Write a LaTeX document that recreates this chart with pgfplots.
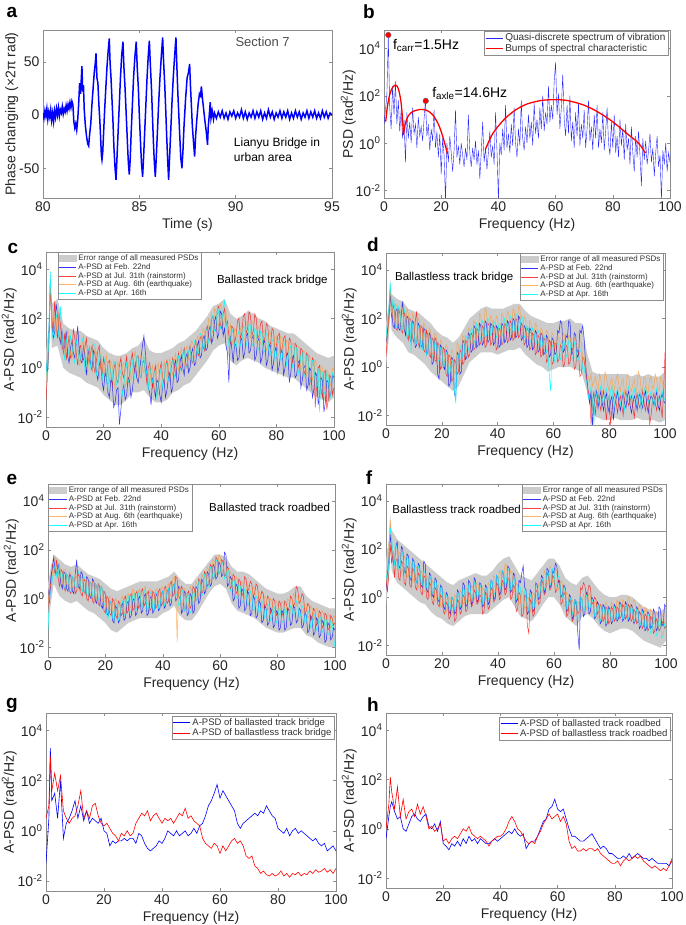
\documentclass[border=0pt]{standalone}
\usepackage{fontspec}
\setmainfont{Liberation Sans}
\usepackage{pgfplots}
\usepackage{pgfplotstable}
\pgfplotsset{compat=1.18}
\usepgfplotslibrary{fillbetween}

\definecolor{mblue}{rgb}{0,0,1}
\definecolor{mred}{rgb}{1,0,0}
\definecolor{morange}{rgb}{1,0.6,0.2}
\definecolor{mcyan}{rgb}{0,1,1}
\definecolor{bandgray}{gray}{0.8}
\definecolor{axgray}{gray}{0.55}

% all PSD values are stored as log10 of the value
\pgfplotstableread{
x b r o c
0 0.2 -1.3 -0.5 0.3
0.5 -0.3 -0.2 0.4 -0.6
1 1.3 0.8 1.0 1.6
1.5 3.5 3.3 3.6 3.9
2 1.9 2.1 1.6 1.7
2.5 1.2 1.4 2.3 1.1
3 1.4 2.7 1.9 1.3
3.5 2.6 1.7 1.3 2.2
4 2.2 1.2 2.4 1.9
4.5 1.3 2.2 1.6 1.2
5 1.0 1.8 1.2 2.5
5.5 1.6 0.9 0.8 1.4
6 0.6 0.7 1.4 0.8
6.5 0.9 1.4 0.5 0.3
7 1.5 0.3 0.6 1.2
7.5 0.5 0.8 1.6 0.9
8 0.2 1.3 1.1 0.5
8.5 0.8 0.4 0.6 1.3
9 1.1 0.5 0.3 1.0
9.5 0.6 1.6 0.9 0.4
10 0.4 1.2 1.0 0.2
10.5 1.0 0.6 1.4 1.1
11 1.7 0.1 0.7 0.9
11.5 0.8 0.8 0.1 0.2
12 0.3 0.9 0.2 0.4
12.5 0.2 0.4 0.9 1.2
13 0.9 0.3 1.3 1.0
13.5 0.5 0.8 0.6 -0.1
14 -0.3 1.2 0.4 0.1
14.5 0.4 0.5 -0.3 0.8
15 0.8 0.2 0.9 0.7
15.5 0.1 0.6 0.5 0.0
16 -0.1 0.9 -0.2 0.3
16.5 0.7 0.1 0.4 1.0
17 0.6 -0.2 0.8 0.9
17.5 -0.2 0.3 0.6 -0.3
18 -0.5 0.7 0.2 -0.1
18.5 0.1 0.9 -0.4 0.6
19 0.4 0.0 0.6 0.5
19.5 -0.6 -0.3 0.2 -0.5
20 -0.9 0.4 -0.3 0.1
20.5 -0.2 0.1 0.0 0.4
21 -0.4 -0.5 0.5 -0.4
21.5 -1.0 0.2 -0.1 -0.9
22 -1.2 0.3 -0.6 0.2
22.5 -0.5 -0.2 0.3 -0.2
23 -0.6 -0.7 0.1 -0.5
23.5 -1.6 -0.1 -0.4 0.3
24 -1.4 0.2 -0.9 0.1
24.5 -0.9 -0.5 -0.2 -0.7
25 -0.8 -0.6 0.3 -0.6
25.5 -2.3 0.1 -0.3 0.0
26 -1.7 0.4 -0.5 -0.2
26.5 -1.0 -0.2 0.1 -1.1
27 -0.7 -0.4 0.2 -0.8
27.5 -1.3 0.0 -0.8 -0.1
28 -1.1 0.5 -0.6 0.2
28.5 -0.4 -0.6 0.0 -0.6
29 -0.5 -0.3 0.3 -0.4
29.5 -1.2 0.3 -0.5 0.1
30 -0.9 0.6 -0.2 0.3
30.5 -0.3 0.0 0.4 -0.5
31 0.2 -0.2 0.7 -0.2
31.5 -0.4 0.4 0.0 0.5
32 -0.6 0.5 -0.4 0.4
32.5 -0.1 -0.3 0.3 -0.4
33 0.4 -0.4 0.5 -0.3
33.5 0.9 0.2 -0.1 0.2
34 1.3 0.3 -0.2 0.5
34.5 0.6 -0.1 0.5 -0.3
35 -0.3 -0.6 0.4 -0.1
35.5 -0.8 0.0 -0.2 -0.9
36 -1.0 0.2 -0.7 0.1
36.5 -1.5 -0.3 -0.1 -0.3
37 -0.4 -0.8 0.1 -0.6
37.5 -0.8 -0.2 -1.0 -0.2
38 -1.2 0.1 -0.5 -0.1
38.5 -0.5 -1.1 0.0 -1.3
39 -0.6 -0.7 0.2 -0.7
39.5 -1.1 -0.1 -0.6 -0.3
40 -1.4 0.2 -0.9 0.0
40.5 -0.7 -0.4 -0.3 -0.8
41 -0.5 -0.6 0.3 -0.5
41.5 -1.2 0.1 -0.2 0.1
42 -0.9 0.3 -0.4 0.2
42.5 -0.4 -0.2 0.1 -0.5
43 -0.2 -0.5 0.4 -0.4
43.5 -1.0 0.0 -0.1 0.2
44 -0.8 0.4 -0.3 0.3
44.5 0.1 0.1 0.3 -0.4
45 0.3 -0.3 0.6 -0.2
45.5 -0.6 0.2 0.0 0.3
46 -0.5 0.6 -0.1 0.5
46.5 0.2 0.1 0.5 -0.1
47 0.5 -0.1 0.8 0.0
47.5 0.0 0.5 0.2 0.6
48 -0.3 0.8 0.1 0.7
48.5 0.4 0.2 0.7 0.0
49 0.6 0.0 0.9 0.1
49.5 -0.2 0.6 0.4 0.7
50 0.0 0.9 0.3 0.8
50.5 0.6 0.3 1.1 0.2
51 0.8 0.2 1.0 0.3
51.5 0.1 0.8 0.4 1.1
52 0.2 1.1 0.5 1.0
52.5 0.9 0.6 1.3 0.5
53 1.1 0.5 1.2 0.6
53.5 0.4 1.2 0.8 1.4
54 0.5 1.3 0.7 1.3
54.5 1.2 0.9 1.6 0.7
55 1.3 0.7 1.5 0.8
55.5 0.7 1.5 1.1 1.6
56 0.8 1.7 1.0 1.5
56.5 1.5 1.2 2.0 1.0
57 1.7 1.1 1.9 1.2
57.5 1.0 2.0 1.5 2.2
58 1.2 2.1 1.4 2.0
58.5 1.9 1.6 2.4 1.5
59 2.1 1.5 2.3 1.6
59.5 1.2 2.4 1.8 2.5
60 1.4 2.5 1.7 2.2
60.5 2.3 1.8 2.6 1.6
61 2.2 1.6 2.4 1.7
61.5 1.3 2.2 1.7 2.4
62 1.6 2.4 2.0 2.7
62.5 0.9 1.7 2.3 1.9
63 0.6 1.9 1.5 1.4
63.5 -0.6 1.3 1.0 0.9
64 1.3 1.0 1.8 1.1
64.5 0.8 1.7 1.2 1.6
65 0.2 1.6 0.9 1.4
65.5 1.0 1.0 1.6 0.9
66 0.9 1.3 1.5 0.8
66.5 0.3 1.9 1.1 1.3
67 0.4 2.0 1.0 1.5
67.5 1.1 1.2 1.6 0.9
68 1.2 1.4 1.7 1.0
68.5 0.4 2.1 1.2 1.7
69 0.6 2.2 1.1 1.6
69.5 1.3 1.4 1.8 0.9
70 1.4 1.6 1.9 1.1
70.5 0.6 2.3 1.3 1.8
71 0.7 2.1 1.2 1.7
71.5 1.2 1.3 1.9 0.9
72 1.3 1.5 1.8 1.0
72.5 0.3 2.2 1.1 1.6
73 0.5 2.0 1.0 1.5
73.5 1.1 1.2 1.7 0.7
74 1.2 1.3 1.6 0.8
74.5 0.2 1.8 1.0 1.5
75 0.4 1.9 0.9 1.4
75.5 1.0 1.0 1.5 0.6
76 1.1 1.2 1.5 0.7
76.5 0.1 1.8 0.7 1.4
77 0.3 1.7 0.8 1.3
77.5 0.9 0.9 1.5 0.5
78 0.9 1.0 1.4 0.6
78.5 -0.1 1.6 0.6 1.1
79 0.2 1.5 0.7 1.2
79.5 0.7 0.7 1.2 0.3
80 0.8 0.9 1.3 0.5
80.5 -0.2 1.3 0.5 1.0
81 0.1 1.4 0.6 1.1
81.5 0.6 0.6 1.3 0.3
82 0.7 0.8 1.2 0.4
82.5 -0.3 1.2 0.4 0.9
83 0.0 1.3 0.5 1.0
83.5 0.5 0.5 1.1 0.1
84 0.6 0.6 1.1 0.3
84.5 -0.6 1.2 0.3 0.8
85 -0.2 1.1 0.4 0.9
85.5 0.4 0.2 1.0 0.0
86 0.5 0.4 1.0 0.2
86.5 -0.4 1.0 0.2 0.9
87 -0.3 0.9 0.3 0.8
87.5 0.2 0.0 0.9 -0.3
88 0.3 0.2 0.8 0.0
88.5 -0.8 0.8 -0.1 0.5
89 -0.5 0.7 0.1 0.6
89.5 0.0 -0.3 0.7 -0.4
90 0.1 -0.1 0.6 -0.2
90.5 -0.9 0.6 -0.3 0.5
91 -0.7 0.5 -0.1 0.4
91.5 0.0 -0.7 0.5 -0.6
92 -0.1 -0.4 0.4 -0.5
92.5 -1.2 0.4 -0.5 0.3
93 -0.9 0.3 -0.3 0.2
93.5 -0.2 -1.6 0.3 -0.9
94 -0.3 -0.6 0.2 -0.7
94.5 -1.5 0.0 -0.6 0.0
95 -1.1 0.1 -0.5 -1.8
95.5 -0.4 -0.9 0.1 -0.1
96 -0.5 -1.2 0.0 -0.2
96.5 -1.8 -0.2 -0.9 -1.1
97 -1.4 -0.1 -0.7 -0.9
97.5 -0.5 -1.7 -0.1 -0.2
98 -0.6 -1.3 -0.2 -0.4
98.5 -1.2 -0.3 -0.8 -1.3
99 -1.0 -0.4 -0.6 -1.0
99.5 -0.3 -1.1 0.0 -0.2
100 -0.4 -0.8 -0.1 -0.3
}\tabc
\pgfplotstableread{
x lo hi
0 -1.2 0.6
1 0.2 1.8
1.5 3.0 4.0
2 0.8 2.6
4 0.9 2.8
6 0.0 1.8
8 -0.2 1.6
10 -0.3 1.5
12 -0.4 1.5
14 -0.6 1.3
16 -0.7 1.2
18 -0.8 1.1
20 -1.1 0.8
22 -1.3 0.6
24 -1.5 0.5
26 -1.5 0.5
28 -1.3 0.6
30 -1.0 0.8
32 -1.0 0.9
34 -0.9 1.2
36 -1.2 0.7
38 -1.4 0.6
40 -1.4 0.6
42 -1.3 0.7
44 -1.0 0.8
46 -0.9 1.0
48 -0.7 1.1
50 -0.6 1.3
52 -0.3 1.5
54 0.0 1.8
56 0.3 2.1
58 0.7 2.5
60 0.9 2.6
62 1.0 2.8
64 0.3 2.2
66 0.1 2.0
68 0.3 2.1
70 0.4 2.3
72 0.3 2.2
74 0.2 2.0
76 0.0 1.9
78 -0.1 1.7
80 -0.2 1.6
82 -0.3 1.5
84 -0.4 1.4
86 -0.4 1.4
88 -0.6 1.2
90 -0.8 1.0
92 -1.0 0.8
94 -1.2 0.6
96 -1.3 0.5
98 -1.4 0.4
100 -1.2 0.5
}\bandc

\pgfplotstableread{
x b r o c
0 1.0 0.4 1.5 1.2
0.5 1.5 1.3 0.9 1.8
1 1.8 2.2 2.0 2.4
1.5 3.0 3.2 3.1 3.5
2 2.5 2.0 2.8 2.2
2.5 1.7 2.6 2.0 2.8
3 1.6 2.3 1.9 2.6
3.5 2.3 1.6 2.6 1.6
4 2.4 1.5 2.5 1.7
4.5 1.6 2.4 1.8 2.5
5 1.5 2.2 1.7 2.3
5.5 2.2 1.5 2.6 1.5
6 2.7 1.4 2.3 1.6
6.5 1.6 2.3 1.6 2.4
7 1.3 2.0 1.5 2.1
7.5 2.1 1.3 2.4 1.2
8 2.0 1.1 2.2 1.3
8.5 1.2 2.0 1.2 2.1
9 1.0 1.9 1.3 0.6
9.5 1.9 1.2 2.2 1.8
10 1.8 1.0 2.0 1.5
10.5 0.8 1.9 1.0 0.9
11 0.9 2.3 1.2 1.0
11.5 1.8 1.0 2.0 1.7
12 1.7 0.8 1.9 1.6
12.5 0.9 1.7 1.0 0.8
13 0.8 1.6 1.1 0.7
13.5 1.6 0.7 1.8 1.4
14 1.5 0.6 1.7 1.3
14.5 0.5 1.5 0.8 0.5
15 0.6 1.3 0.9 0.6
15.5 1.4 0.5 1.6 1.2
16 1.3 0.4 1.5 1.1
16.5 0.1 1.2 0.5 0.4
17 0.2 1.1 0.6 0.5
17.5 1.2 0.3 1.4 1.0
18 1.1 0.2 1.3 0.9
18.5 -0.3 1.0 0.3 0.2
19 -0.5 0.9 0.4 0.3
19.5 0.9 -0.1 1.1 0.8
20 0.8 0.0 1.0 0.7
20.5 0.0 0.8 0.1 0.0
21 -0.1 0.7 0.2 0.1
21.5 0.7 -0.3 0.9 0.6
22 0.6 -0.4 0.8 0.5
22.5 -0.8 0.5 -0.1 -0.3
23 -0.7 0.4 0.0 -0.2
23.5 0.4 -0.6 0.7 0.3
24 0.3 -0.5 0.6 0.2
24.5 -1.1 0.3 -0.2 -0.9
25 -1.3 0.2 -0.3 -1.5
25.5 0.6 -0.3 1.0 0.5
26 0.5 -0.2 0.9 0.4
26.5 -0.3 0.7 0.2 0.8
27 -0.2 0.6 0.3 0.9
27.5 1.1 0.1 1.3 0.4
28 1.0 0.2 1.2 0.5
28.5 0.3 1.1 0.6 1.3
29 0.4 1.0 0.7 1.2
29.5 1.4 0.4 1.6 0.7
30 1.3 0.5 1.5 0.8
30.5 0.6 1.4 0.9 1.6
31 0.7 1.3 1.0 1.5
31.5 1.7 0.7 1.9 1.0
32 1.6 0.8 1.8 1.1
32.5 0.8 1.6 1.2 1.8
33 0.9 1.5 1.3 1.7
33.5 1.8 0.9 2.2 1.1
34 1.7 1.0 2.1 1.2
34.5 0.9 1.7 1.3 1.9
35 1.0 1.6 1.4 1.8
35.5 1.9 0.8 2.4 1.2
36 1.8 0.9 2.3 1.3
36.5 1.0 1.8 1.4 2.0
37 1.1 1.7 1.5 1.9
37.5 1.8 0.9 2.1 1.3
38 1.7 1.0 2.0 1.4
38.5 0.9 1.7 1.3 1.9
39 1.0 1.6 1.4 1.8
39.5 1.7 0.7 2.1 1.2
40 1.6 0.8 2.0 1.3
40.5 0.8 1.6 1.2 1.8
41 0.9 1.5 1.3 1.7
41.5 1.8 0.9 2.2 1.3
42 1.7 1.0 2.1 1.4
42.5 1.0 1.8 1.4 2.0
43 1.1 1.7 1.5 1.9
43.5 1.9 1.0 2.3 1.4
44 1.8 1.1 2.2 1.5
44.5 1.1 1.9 1.5 2.1
45 1.2 1.8 1.6 2.0
45.5 2.0 1.1 2.4 1.4
46 1.9 1.2 2.3 1.5
46.5 1.2 2.0 1.6 2.2
47 1.3 1.9 1.7 2.1
47.5 2.1 1.2 2.5 1.5
48 2.0 1.3 2.4 1.6
48.5 1.1 1.8 1.5 2.1
49 1.2 1.7 1.6 2.0
49.5 1.7 0.9 2.1 1.2
50 1.6 1.0 2.0 1.3
50.5 0.8 1.6 1.2 1.7
51 0.9 1.5 1.3 1.6
51.5 1.6 0.7 1.9 1.0
52 1.5 0.8 1.8 1.1
52.5 0.7 1.4 1.1 1.6
53 0.8 1.3 1.2 1.5
53.5 1.5 0.5 1.8 0.9
54 1.4 0.6 1.7 1.0
54.5 0.6 1.3 0.9 1.5
55 0.7 1.2 1.0 1.4
55.5 1.4 0.4 1.6 0.8
56 1.3 0.5 1.5 0.9
56.5 0.5 1.2 0.8 1.3
57 0.6 1.1 0.9 1.2
57.5 1.3 0.2 1.5 0.6
58 1.2 0.3 1.4 0.7
58.5 0.4 1.1 0.7 -0.3
59 0.5 1.0 0.8 -1.0
59.5 1.2 0.1 1.4 0.9
60 1.1 0.2 1.3 0.8
60.5 0.5 1.0 0.8 0.2
61 0.6 0.9 0.9 0.3
61.5 1.5 0.2 1.3 1.0
62 1.4 0.3 1.2 0.9
62.5 1.9 0.9 0.9 0.3
63 1.8 0.8 1.0 0.4
63.5 0.6 0.0 1.4 1.1
64 0.7 0.1 1.3 1.0
64.5 1.3 0.9 0.7 0.4
65 1.2 0.8 0.8 0.5
65.5 1.9 0.1 1.3 1.1
66 1.8 0.2 1.2 1.0
66.5 0.5 0.8 0.8 0.3
67 0.6 0.7 0.9 0.4
67.5 1.4 -0.1 1.2 1.0
68 1.3 0.0 1.1 0.9
68.5 0.4 0.7 0.7 0.2
69 0.5 0.6 0.8 0.3
69.5 1.5 -0.4 1.1 0.7
70 1.4 -0.3 1.0 0.6
70.5 1.7 0.4 0.3 -0.1
71 1.2 0.3 0.4 0.0
71.5 0.2 -0.2 0.1 -0.4
72 -0.5 -0.6 -0.3 -0.7
72.5 -1.2 -1.0 -0.4 -1.3
73 -1.5 -1.2 -0.6 -1.1
73.5 -1.0 -2.4 -0.3 -0.8
74 -2.4 -1.5 -0.8 -1.4
74.5 -1.6 -1.0 -0.6 -2.4
75 -1.2 -2.0 -0.4 -0.9
75.5 -1.0 -1.4 -0.7 -1.2
76 -1.7 -1.1 -1.0 -1.5
76.5 -1.3 -1.5 -0.3 -1.0
77 -1.0 -1.8 -0.5 -0.8
77.5 -1.5 -1.3 -1.1 -1.3
78 -1.8 -1.0 -0.9 -1.6
78.5 -1.3 -1.6 -0.2 -1.1
79 -1.1 -2.2 -0.4 -0.9
79.5 -1.6 -1.4 -0.8 -1.2
80 -1.9 -1.2 -1.0 -1.4
80.5 -1.4 -2.4 -0.6 -1.0
81 -1.2 -1.7 -0.5 -0.8
81.5 -2.2 -1.3 -1.1 -1.8
82 -1.6 -1.1 -0.8 -1.5
82.5 -1.3 -1.5 -0.5 -1.1
83 -1.0 -1.9 -0.3 -0.9
83.5 -1.5 -1.4 -0.8 -1.3
84 -1.8 -1.2 -1.0 -1.6
84.5 -1.4 -1.6 -0.6 -1.2
85 -1.1 -2.0 -0.5 -1.0
85.5 -1.5 -1.3 -1.1 -1.8
86 -1.7 -1.0 -0.9 -1.4
86.5 -1.2 -1.4 -0.3 -1.0
87 -1.0 -1.6 -0.4 -0.8
87.5 -1.6 -1.4 -0.9 -1.2
88 -1.9 -1.2 -1.0 -1.5
88.5 -1.5 -1.7 -0.7 -1.1
89 -1.2 -2.1 -0.5 -0.9
89.5 -1.4 -1.4 -1.1 -1.3
90 -1.8 -1.1 -0.8 -1.6
90.5 -1.3 -1.5 -0.2 -1.2
91 -1.1 -1.7 -0.4 -1.0
91.5 -1.5 -1.3 -1.0 -1.9
92 -1.7 -1.0 -0.9 -1.4
92.5 -1.2 -1.5 -0.4 -1.0
93 -1.0 -1.8 -0.5 -0.8
93.5 -1.6 -1.4 -1.1 -1.2
94 -1.9 -1.2 -1.0 -1.5
94.5 -1.4 -2.4 -0.5 -1.2
95 -1.2 -2.0 -0.4 -1.0
95.5 -1.3 -1.4 -0.9 -1.4
96 -1.6 -1.1 -0.8 -1.7
96.5 -1.3 -1.5 -0.3 -1.2
97 -1.0 -1.8 -0.5 -0.9
97.5 -1.6 -1.4 -1.0 -1.3
98 -1.8 -1.2 -0.9 -1.5
98.5 -1.3 -1.6 -0.4 -1.2
99 -1.1 -2.1 -0.6 -1.0
99.5 -1.4 -1.0 -0.9 -1.4
100 -1.5 0.6 -0.8 -1.3
}\tabd
\pgfplotstableread{
x lo hi
0 0.0 1.8
1 1.2 2.6
1.5 2.5 3.6
2 1.5 3.0
4 1.2 2.8
6 1.0 2.7
8 0.6 2.4
10 0.5 2.3
12 0.3 2.2
14 0.1 2.0
16 -0.2 1.8
18 -0.4 1.5
20 -0.6 1.3
22 -0.8 1.2
24 -1.0 1.0
26 -0.8 1.2
28 -0.3 1.6
30 0.2 2.0
32 0.4 2.2
34 0.6 2.4
36 0.6 2.5
38 0.6 2.4
40 0.5 2.4
42 0.6 2.4
44 0.7 2.5
46 0.7 2.6
48 0.8 2.6
50 0.5 2.3
52 0.3 2.1
54 0.1 2.0
56 0.0 1.9
58 -0.2 1.8
60 -0.1 1.8
62 0.0 1.9
64 0.0 1.9
66 0.0 2.0
68 -0.1 1.8
70 -0.2 1.8
72 -1.0 0.6
74 -2.0 -0.2
76 -2.1 -0.3
78 -2.2 -0.3
80 -2.2 -0.3
82 -2.1 -0.3
84 -2.2 -0.3
86 -2.2 -0.3
88 -2.2 -0.4
90 -2.1 -0.3
92 -2.2 -0.4
94 -2.2 -0.3
96 -2.2 -0.4
98 -2.3 -0.4
100 -2.2 -0.2
}\bandd

\pgfplotstableread{
x b r o c
0 0.4 -0.6 -0.2 -1.3
0.5 -0.2 0.3 0.6 0.1
1 0.9 0.6 0.5 0.2
1.5 1.2 1.4 1.0 0.8
2 1.7 1.3 1.5 1.1
2.5 1.1 1.0 1.7 1.4
3 1.0 1.6 1.1 0.9
3.5 1.4 0.9 0.8 1.3
4 1.1 0.5 1.4 0.7
4.5 0.6 1.2 0.9 1.1
5 0.4 1.1 0.6 1.0
5.5 1.1 0.5 1.2 0.5
6 1.0 0.3 1.2 0.4
6.5 0.4 1.0 0.6 1.0
7 0.3 0.9 0.5 0.9
7.5 1.0 0.3 1.1 0.3
8 0.9 0.2 1.0 0.3
8.5 0.3 0.9 0.5 0.9
9 0.2 0.8 0.4 0.8
9.5 1.0 0.2 1.0 0.4
10 1.6 0.3 0.9 0.5
10.5 0.5 1.0 0.4 1.1
11 0.4 0.9 0.3 1.0
11.5 1.1 0.2 0.9 0.4
12 1.0 0.1 0.8 0.3
12.5 0.3 0.8 0.3 0.9
13 0.2 0.7 0.2 0.8
13.5 0.9 0.0 0.8 0.2
14 0.8 -0.1 0.7 0.1
14.5 0.1 0.7 0.2 0.7
15 0.0 0.6 0.1 0.6
15.5 0.8 -0.1 0.7 0.1
16 0.7 -0.2 0.6 0.0
16.5 -0.1 0.6 0.1 0.6
17 -0.2 0.5 0.0 0.5
17.5 0.6 -0.2 0.6 0.0
18 0.5 -0.3 0.5 -0.1
18.5 -0.3 0.5 0.0 0.5
19 -0.4 0.4 -0.1 0.4
19.5 0.3 -0.5 0.3 -0.2
20 0.2 -0.6 0.2 -0.3
20.5 -0.6 0.1 -0.4 -0.7
21 -0.7 0.0 -0.5 -0.8
21.5 -0.1 -0.6 0.1 -0.1
22 -0.2 -0.7 0.0 -0.2
22.5 -0.9 0.0 -0.5 -0.8
23 -1.0 -0.1 -0.6 -0.9
23.5 -0.3 -0.7 0.0 -0.2
24 -0.4 -0.8 -0.1 -0.3
24.5 -1.0 -0.1 -0.6 -0.9
25 -0.9 -0.2 -0.7 -0.8
25.5 -0.3 -0.7 0.0 -0.2
26 -0.2 -0.6 0.1 -0.1
26.5 -0.9 0.0 -0.6 -0.7
27 -0.8 0.1 -0.5 -0.6
27.5 -0.2 -0.6 0.1 0.0
28 -0.1 -0.5 0.2 0.1
28.5 -0.8 0.1 -0.3 -0.6
29 -0.7 0.2 -0.4 -0.5
29.5 -0.1 -0.5 0.4 0.1
30 0.0 -0.4 0.3 0.2
30.5 -0.7 0.2 -0.4 -0.5
31 -0.6 0.3 -0.3 -0.4
31.5 0.0 -0.4 0.3 0.2
32 0.1 -0.3 0.4 0.3
32.5 -0.6 0.3 -0.3 -0.4
33 -0.5 0.4 -0.2 -0.3
33.5 0.1 -0.3 0.4 0.3
34 0.2 -0.2 0.5 0.4
34.5 -0.7 0.2 -0.2 -0.5
35 -0.6 0.3 -0.3 -0.4
35.5 0.0 -0.5 0.4 0.2
36 0.1 -0.4 0.3 0.3
36.5 -0.6 0.3 -0.3 -0.4
37 -0.5 0.2 -0.2 -0.5
37.5 0.1 -0.4 0.3 0.3
38 0.2 -0.3 0.4 0.2
38.5 -0.5 0.3 -0.2 -0.4
39 -0.4 0.4 -0.1 -0.3
39.5 0.2 -0.3 0.4 0.2
40 0.3 -0.2 0.5 0.3
40.5 -0.4 0.4 -0.1 -0.3
41 -0.3 0.5 0.0 -0.2
41.5 0.3 -0.2 0.5 0.3
42 0.4 -0.1 0.6 0.4
42.5 -0.3 0.6 0.1 -0.1
43 -0.2 0.7 0.2 0.0
43.5 0.5 0.1 0.8 0.5
44 0.6 0.2 0.9 0.6
44.5 -0.1 0.9 0.3 0.1
45 0.0 0.8 -1.8 0.2
45.5 0.5 0.1 0.4 -0.3
46 0.4 0.0 0.5 -0.2
46.5 -0.6 0.5 -0.3 0.4
47 -0.5 0.4 -0.2 0.3
47.5 0.3 -0.5 0.4 -0.5
48 0.2 -0.4 0.3 -0.4
48.5 -0.7 0.2 -0.4 0.2
49 -0.6 0.3 -0.3 0.1
49.5 0.2 -0.4 0.5 -0.6
50 0.1 -0.3 0.4 -0.5
50.5 -0.6 0.5 -0.2 0.3
51 -0.5 0.4 -0.1 0.2
51.5 0.5 -0.1 0.7 -0.1
52 0.4 0.0 0.6 0.0
52.5 -0.2 0.8 0.1 0.7
53 -0.1 0.7 0.2 0.6
53.5 0.8 0.2 1.0 0.1
54 0.7 0.3 0.9 0.2
54.5 0.2 1.1 0.4 1.0
55 0.3 1.0 0.5 0.9
55.5 1.1 0.5 1.3 0.4
56 1.0 0.6 1.2 0.5
56.5 0.5 1.4 0.7 1.3
57 0.6 1.3 0.8 1.2
57.5 1.4 0.8 1.6 0.8
58 1.3 0.9 1.5 0.9
58.5 0.8 1.7 1.0 1.6
59 0.9 1.6 1.1 1.5
59.5 1.5 1.0 1.8 1.0
60 1.4 1.1 1.7 1.1
60.5 0.9 1.6 1.1 1.5
61 1.0 1.5 1.2 1.4
61.5 1.9 0.9 1.5 0.8
62 1.8 1.0 1.4 0.9
62.5 0.5 1.3 0.8 1.2
63 0.6 1.2 0.9 1.1
63.5 0.9 0.4 1.1 0.3
64 0.8 0.5 1.0 0.4
64.5 -0.1 1.0 0.3 0.8
65 0.0 0.9 0.4 0.7
65.5 0.6 0.2 0.9 0.0
66 0.5 0.3 0.8 0.1
66.5 -0.4 0.8 0.1 0.6
67 -0.3 0.7 0.2 0.5
67.5 0.4 0.1 0.7 -0.2
68 0.3 0.2 0.6 -0.1
68.5 -0.5 0.9 0.0 0.4
69 -0.4 0.8 0.1 0.3
69.5 0.3 0.3 0.6 -0.3
70 0.2 0.4 0.5 -0.2
70.5 -0.7 0.7 -0.1 0.3
71 -0.6 0.6 0.0 0.2
71.5 0.1 0.1 0.5 -0.5
72 0.0 0.2 0.4 -0.4
72.5 -0.8 0.6 -0.2 0.1
73 -0.7 0.5 -0.1 0.0
73.5 -0.1 -0.1 0.3 -0.6
74 -0.2 0.0 0.2 -0.5
74.5 -1.0 0.3 -0.4 -0.1
75 -0.9 0.2 -0.3 -0.2
75.5 -0.3 -0.4 0.1 -0.8
76 -0.4 -0.3 0.0 -0.7
76.5 -1.1 0.1 -0.5 -0.2
77 -1.0 0.0 -0.4 -0.3
77.5 -0.4 -0.6 0.0 -0.9
78 -0.5 -0.5 -0.1 -0.8
78.5 -1.2 0.0 -0.6 -0.3
79 -1.1 -0.1 -0.5 -0.4
79.5 -0.5 -0.7 -0.1 -1.0
80 -0.6 -0.6 -0.2 -0.9
80.5 -1.3 -0.1 -0.7 -0.4
81 -1.2 -0.2 -0.6 -0.5
81.5 -0.5 -0.7 -0.1 -1.0
82 -0.6 -0.6 -0.2 -0.9
82.5 -1.3 -0.1 -0.6 -0.4
83 -1.2 -0.2 -0.5 -0.5
83.5 -0.4 -0.5 0.0 -0.9
84 -0.5 -0.4 -0.1 -0.8
84.5 -1.1 0.1 -0.5 -0.3
85 -1.0 0.0 -0.4 -0.4
85.5 -0.3 -0.3 0.2 -0.7
86 -0.4 -0.2 0.1 -0.6
86.5 -1.0 0.5 -0.3 -0.1
87 -0.9 0.4 -0.2 -0.2
87.5 -0.4 -0.2 0.1 -0.8
88 -0.5 -0.1 0.0 -0.7
88.5 -1.2 0.2 -0.6 -0.3
89 -1.1 0.1 -0.5 -0.4
89.5 -0.6 -0.6 -0.2 -1.0
90 -0.7 -0.5 -0.3 -0.9
90.5 -1.4 -0.2 -0.8 -0.5
91 -1.3 -0.3 -0.7 -0.6
91.5 -0.7 -0.9 -0.3 -1.2
92 -0.8 -0.8 -0.4 -1.1
92.5 -1.5 -0.4 -0.9 -0.6
93 -1.4 -0.5 -0.8 -0.7
93.5 -0.8 -1.1 -0.4 -1.3
94 -0.9 -1.0 -0.5 -1.2
94.5 -1.6 -0.5 -1.0 -0.7
95 -1.5 -0.6 -0.9 -0.8
95.5 -0.9 -1.2 -0.5 -1.4
96 -1.0 -1.1 -0.6 -1.3
96.5 -1.8 -0.6 -1.1 -0.8
97 -1.7 -0.7 -1.0 -0.9
97.5 -1.0 -1.3 -0.6 -1.5
98 -1.1 -1.2 -0.7 -1.4
98.5 -1.7 -0.7 -1.2 -0.9
99 -1.6 -0.8 -1.1 -1.0
99.5 -1.2 -1.1 -0.7 -1.6
100 -1.3 -1.0 -0.8 -2.0
}\tabe
\pgfplotstableread{
x lo hi
0 -1.2 0.6
1 -0.2 1.3
2 0.6 1.8
4 0.1 1.6
6 -0.1 1.4
8 -0.2 1.3
10 -0.1 1.4
12 -0.3 1.2
14 -0.5 1.0
16 -0.6 0.9
18 -0.8 0.8
20 -1.0 0.6
22 -1.3 0.4
24 -1.4 0.3
26 -1.2 0.4
28 -1.0 0.5
30 -0.9 0.6
32 -0.8 0.7
34 -0.8 0.7
36 -0.8 0.7
38 -0.8 0.7
40 -0.6 0.8
42 -0.5 0.9
44 -0.3 1.1
46 -0.7 0.8
48 -0.9 0.6
50 -0.9 0.6
52 -0.6 0.9
54 -0.2 1.2
56 0.2 1.5
58 0.5 1.8
60 0.6 1.8
62 0.4 1.7
64 -0.2 1.3
66 -0.5 1.1
68 -0.6 1.1
70 -0.7 1.0
72 -0.8 0.8
74 -1.0 0.6
76 -1.2 0.4
78 -1.3 0.3
80 -1.4 0.2
82 -1.4 0.2
84 -1.3 0.3
86 -1.2 0.5
88 -1.2 0.5
90 -1.5 0.1
92 -1.6 -0.1
94 -1.8 -0.2
96 -1.9 -0.3
98 -2.0 -0.4
100 -2.0 -0.4
}\bande

\pgfplotstableread{
x b r o c
0 0.3 0.8 0.5 1.0
0.5 1.0 0.2 1.2 0.6
1 1.6 1.0 1.9 1.4
1.5 2.6 2.2 3.2 2.9
2 2.0 1.4 2.2 2.5
2.5 1.5 1.9 1.6 1.8
3 1.4 0.8 1.7 1.3
3.5 2.1 1.5 1.1 2.2
4 2.3 1.6 1.2 2.0
4.5 1.3 0.8 1.9 1.2
5 1.2 0.7 1.8 1.1
5.5 2.1 1.5 1.0 1.9
6 2.0 1.4 1.1 1.8
6.5 1.1 0.6 1.7 1.0
7 1.0 0.5 1.6 0.9
7.5 1.8 1.3 0.8 1.7
8 1.7 1.2 0.9 1.6
8.5 0.8 0.5 1.5 0.9
9 0.7 0.4 1.4 0.8
9.5 1.6 1.2 0.6 1.5
10 1.5 1.1 0.7 1.4
10.5 0.7 0.4 1.3 0.7
11 0.6 0.3 1.2 0.6
11.5 1.4 1.0 0.4 1.3
12 1.3 0.9 0.5 1.2
12.5 0.5 0.2 1.1 0.6
13 0.4 0.1 1.0 0.5
13.5 1.5 0.9 0.2 1.1
14 1.4 0.8 0.3 1.0
14.5 0.3 0.0 0.9 0.4
15 0.2 -0.1 0.8 0.3
15.5 1.0 0.6 0.0 0.9
16 0.9 0.5 0.1 0.8
16.5 0.1 -0.2 0.7 0.2
17 0.0 -0.3 0.6 0.1
17.5 0.8 0.4 -0.2 0.7
18 0.7 0.3 -0.1 0.6
18.5 -0.1 -0.3 0.5 0.0
19 -0.2 -0.4 0.4 -0.1
19.5 0.5 0.1 -0.4 0.4
20 0.4 0.0 -0.3 0.3
20.5 -0.4 -0.6 0.2 -0.2
21 -0.5 -0.7 0.1 -0.3
21.5 0.2 -0.2 -0.6 0.1
22 0.1 -0.3 -0.5 0.0
22.5 -0.6 -0.9 0.0 -0.4
23 -0.7 -0.8 -0.1 -0.5
23.5 0.0 -0.3 -0.7 0.0
24 -0.1 -0.4 -0.6 -0.1
24.5 -0.7 -1.0 0.1 -0.5
25 -0.6 -0.9 0.0 -0.4
25.5 0.3 -0.1 -0.5 0.2
26 0.2 -0.2 -0.4 0.1
26.5 -0.5 -0.7 0.3 -0.4
27 -0.4 -0.6 0.2 -0.3
27.5 0.6 0.1 -0.3 0.4
28 0.5 0.0 -0.2 0.3
28.5 -0.4 -0.6 0.4 -0.2
29 -0.3 -0.5 0.3 -0.1
29.5 0.7 0.2 -0.2 0.5
30 0.6 0.1 -0.1 0.4
30.5 -0.3 -0.4 0.5 -0.1
31 -0.2 -0.3 0.4 0.0
31.5 0.8 0.3 -0.1 0.6
32 0.7 0.2 0.0 0.5
32.5 -0.2 -0.3 0.6 0.0
33 -0.1 -0.2 0.5 0.1
33.5 0.6 0.1 -0.2 0.5
34 0.5 0.0 -0.1 0.4
34.5 -0.4 -0.7 0.4 -0.3
35 -0.3 -0.6 0.3 -0.2
35.5 0.5 0.2 -0.1 0.4
36 0.4 0.1 0.0 0.3
36.5 -0.3 -0.5 0.6 -0.1
37 -0.2 -0.4 0.5 0.0
37.5 0.7 0.4 0.1 0.7
38 0.6 0.3 0.2 0.6
38.5 -0.1 -0.2 0.9 0.1
39 0.0 -0.1 0.8 0.2
39.5 0.9 0.6 0.3 0.9
40 0.8 0.5 0.4 0.8
40.5 0.1 -0.1 1.1 0.3
41 0.2 0.0 1.0 0.4
41.5 1.1 0.7 0.5 1.1
42 1.0 0.6 0.6 1.0
42.5 0.3 0.1 1.4 0.5
43 0.4 0.2 1.3 0.6
43.5 1.3 0.8 0.7 1.2
44 1.2 0.7 0.8 1.1
44.5 0.2 -0.1 1.1 0.3
45 0.3 0.0 1.0 0.4
45.5 1.0 0.5 0.2 0.8
46 0.9 0.4 0.3 0.7
46.5 -0.2 -0.6 0.6 -0.1
47 -0.1 -0.5 0.5 0.0
47.5 0.7 0.2 -0.3 0.5
48 0.6 0.1 -0.2 0.4
48.5 1.0 -0.8 0.3 -0.4
49 1.3 -0.7 0.2 -0.3
49.5 0.4 0.1 -0.5 0.3
50 0.3 0.0 -0.4 0.2
50.5 -0.7 -1.2 0.0 -0.6
51 -0.6 -1.5 -0.1 -0.5
51.5 0.3 -0.1 -0.6 0.1
52 0.2 -0.2 -0.5 0.0
52.5 -0.6 -0.8 0.2 -0.5
53 -0.5 -0.7 0.1 -0.4
53.5 0.6 0.3 -0.2 0.5
54 0.5 0.2 -0.1 0.4
54.5 -0.1 -0.3 0.6 0.0
55 0.0 -0.2 0.5 0.1
55.5 0.9 0.7 0.2 0.8
56 0.8 0.6 0.3 0.7
56.5 0.2 0.1 1.1 0.3
57 0.3 0.2 1.0 0.4
57.5 1.2 1.0 0.5 1.1
58 1.1 0.9 0.6 1.0
58.5 0.4 0.3 1.3 0.5
59 0.5 0.4 1.2 0.6
59.5 1.1 0.9 0.6 1.2
60 1.0 0.8 0.7 1.1
60.5 1.4 0.2 1.2 0.4
61 1.3 0.3 1.1 0.5
61.5 0.6 0.7 0.3 0.9
62 0.7 0.6 0.4 0.8
62.5 0.0 -0.3 0.7 -0.1
63 0.1 -0.2 0.6 0.0
63.5 0.5 0.2 -0.4 0.4
64 0.4 0.1 -0.3 0.3
64.5 -0.6 -0.8 0.2 -0.5
65 -0.5 -0.7 0.1 -0.4
65.5 0.1 -0.1 -0.6 0.0
66 0.0 -0.2 -0.5 -0.1
66.5 -0.9 -1.0 -0.1 -0.7
67 -0.8 -0.9 -0.2 -0.6
67.5 -0.1 -0.2 -0.8 -0.1
68 -0.2 -0.3 -0.7 -0.2
68.5 -1.5 -0.7 -0.2 -0.9
69 -2.2 -0.6 -0.3 -0.8
69.5 0.0 0.4 -0.6 0.0
70 -0.1 0.3 -0.5 -0.1
70.5 -0.8 0.6 0.1 -0.6
71 -0.7 0.5 0.0 -0.5
71.5 0.2 0.1 -0.5 0.1
72 0.1 0.2 -0.4 0.0
72.5 -0.7 0.5 0.2 -0.5
73 -0.6 0.4 0.1 -0.4
73.5 0.0 -0.3 -0.7 -0.1
74 -0.1 -0.2 -0.6 -0.2
74.5 -0.9 0.0 -0.2 -0.8
75 -0.8 -0.1 -0.3 -0.7
75.5 -0.2 -0.7 -0.9 -0.3
76 -0.3 -0.6 -0.8 -0.4
76.5 -1.1 -0.3 -0.3 -1.0
77 -1.0 -0.4 -0.4 -0.9
77.5 -0.3 -1.0 -0.9 -0.4
78 -0.4 -0.9 -0.8 -0.5
78.5 -1.2 -0.4 -0.2 -1.1
79 -1.1 -0.5 -0.3 -1.0
79.5 -0.4 -1.1 -0.8 -0.5
80 -0.5 -1.0 -0.7 -0.6
80.5 -1.1 -0.4 -0.2 -1.0
81 -1.0 -0.5 -0.3 -0.9
81.5 -0.3 -1.0 -0.7 -0.4
82 -0.4 -0.9 -0.6 -0.5
82.5 -1.0 -0.4 -0.1 -0.9
83 -0.9 -0.5 -0.2 -0.8
83.5 -0.2 -0.9 -0.6 -0.3
84 -0.3 -0.8 -0.5 -0.4
84.5 -1.0 -0.3 -0.1 -0.9
85 -0.9 -0.4 -0.2 -0.8
85.5 -0.2 -0.9 -0.6 -0.3
86 -0.3 -0.8 -0.5 -0.4
86.5 -1.0 -0.3 0.0 -0.9
87 -0.9 -0.4 -0.1 -0.8
87.5 -0.3 -1.0 -0.6 -0.4
88 -0.4 -0.9 -0.5 -0.5
88.5 -1.1 -0.5 -0.1 -1.0
89 -1.0 -0.6 -0.2 -0.9
89.5 -0.4 -1.1 -0.7 -0.5
90 -0.5 -1.0 -0.6 -0.6
90.5 -1.3 -0.6 -0.3 -1.2
91 -1.2 -0.7 -0.4 -1.1
91.5 -0.5 -1.3 -0.9 -0.6
92 -0.6 -1.2 -0.8 -0.7
92.5 -1.4 -0.7 -0.4 -1.3
93 -1.3 -0.8 -0.5 -1.2
93.5 -0.6 -1.4 -1.0 -0.7
94 -0.7 -1.3 -0.9 -0.8
94.5 -1.3 -0.8 -0.5 -1.5
95 -1.2 -0.9 -0.6 -1.4
95.5 -0.5 -1.5 -1.1 -0.8
96 -0.6 -1.4 -1.0 -0.9
96.5 -1.4 -0.9 -0.6 -1.6
97 -1.3 -1.0 -0.7 -1.5
97.5 -0.4 -1.4 -1.2 -0.9
98 -0.5 -1.3 -1.1 -1.0
98.5 -1.2 -1.0 -0.7 -1.7
99 -1.1 -1.1 -0.8 -1.6
99.5 -0.3 -1.3 -1.1 -1.1
100 -0.4 -1.2 -1.0 -1.2
}\tabf
\pgfplotstableread{
x lo hi
0 -0.3 1.5
1 0.7 2.4
1.5 2.2 3.4
2 1.1 2.8
4 0.6 2.4
6 0.4 2.2
8 0.2 2.0
10 0.0 1.8
12 -0.2 1.6
14 -0.3 1.4
16 -0.6 1.2
18 -0.8 1.0
20 -0.9 0.8
22 -1.1 0.6
24 -1.2 0.5
26 -1.0 0.7
28 -0.8 0.8
30 -0.7 0.9
32 -0.7 1.0
34 -0.7 0.9
36 -0.7 0.9
38 -0.5 1.1
40 -0.3 1.4
42 -0.1 1.6
44 0.0 1.7
46 -0.4 1.3
48 -0.8 0.9
50 -0.9 0.8
52 -1.0 0.7
54 -0.7 1.0
56 -0.3 1.3
58 0.0 1.6
60 0.0 1.6
62 -0.3 1.3
64 -0.8 0.8
66 -1.0 0.6
68 -1.2 0.5
70 -0.8 0.8
72 -0.7 0.9
74 -0.9 0.6
76 -1.2 0.3
78 -1.4 0.1
80 -1.5 0.0
82 -1.4 0.0
84 -1.3 0.1
86 -1.3 0.1
88 -1.4 0.0
90 -1.6 -0.2
92 -1.8 -0.4
94 -1.9 -0.5
96 -2.0 -0.6
98 -2.1 -0.6
100 -1.8 -0.4
}\bandf

\pgfplotstableread{
x b r
0 -1.3 0.5
1 0.5 1.0
1.5 3.3 3.0
2 1.2 1.6
3 1.5 2.3
4 0.5 1.6
5 2.0 2.2
6 -0.3 0.8
7 0.3 0.5
8 0.5 0.3
9 0.8 0.5
10 1.2 0.6
11 0.5 1.0
12 1.0 1.6
13 0.4 0.5
14 0.8 0.8
15 0.3 0.5
16 0.5 1.0
17 0.4 1.1
18 0.3 0.6
19 0.5 0.3
20 0.0 0.2
21 -0.1 0.3
22 -0.6 0.1
23 -0.4 -0.1
24 -0.5 -0.2
25 -0.4 -0.4
26 -0.4 -0.1
27 -0.3 -0.2
28 -0.4 0.0
29 -0.3 -0.2
30 -0.3 -0.1
31 -0.5 0.3
32 -0.1 0.5
33 -0.2 0.7
34 -0.5 0.6
35 -0.7 0.8
36 -0.8 0.4
37 -0.7 0.6
38 -0.6 0.7
39 -0.4 0.5
40 -0.5 0.3
41 -0.3 0.5
42 0.0 0.4
43 -0.1 0.5
44 -0.2 0.3
45 0.0 0.5
46 -0.2 0.7
47 -0.1 0.6
48 0.0 0.9
49 -0.2 0.5
50 -0.1 0.6
51 0.1 0.4
52 -0.1 0.3
53 0.2 0.2
54 0.3 -0.3
55 0.6 -0.5
56 1.0 -0.6
57 1.2 -0.7
58 1.5 -0.5
59 1.85 -0.6
60 1.3 -0.9
61 1.6 -0.6
62 1.4 -0.8
63 1.2 -0.6
64 1.0 -0.4
65 0.8 -0.3
66 0.3 -0.5
67 0.1 -0.4
68 0.3 -0.6
69 0.4 -1.0
70 0.5 -1.1
71 0.6 -1.0
72 0.7 -1.4
73 0.6 -1.5
74 0.8 -1.7
75 0.7 -1.6
76 1.0 -1.75
77 0.8 -1.8
78 0.6 -1.7
79 0.5 -1.8
80 0.1 -1.75
81 0.0 -1.6
82 -0.1 -1.8
83 0.1 -1.7
84 -0.2 -1.85
85 0.0 -1.7
86 0.1 -1.75
87 -0.1 -1.65
88 0.0 -1.8
89 -0.1 -1.7
90 -0.2 -1.75
91 -0.3 -1.6
92 -0.4 -1.7
93 -0.3 -1.55
94 -0.5 -1.65
95 -0.6 -1.6
96 -0.5 -1.5
97 -0.8 -1.65
98 -0.7 -1.55
99 -0.6 -1.7
100 -0.8 -1.5
}\tabg

\pgfplotstableread{
x b r
0 -0.4 0.0
1 0.5 1.0
1.5 0.9 2.1
2 1.1 1.5
3 0.7 0.8
4 0.4 1.7
5 0.5 0.5
6 0.0 1.2
7 -0.1 0.4
8 0.2 0.7
9 0.5 0.8
10 0.6 0.5
11 0.4 1.0
12 0.3 0.6
13 0.5 0.9
14 0.6 0.5
15 0.1 0.0
16 0.0 0.1
17 0.2 -0.1
18 -0.1 0.0
19 0.3 0.2
20 -0.6 -0.5
21 -0.7 -0.4
22 -0.85 -0.6
23 -0.6 -0.4
24 -0.7 -0.3
25 -0.5 -0.4
26 -0.7 -0.2
27 -0.4 0.0
28 -0.6 -0.1
29 -0.3 0.1
30 -0.5 -0.2
31 -0.4 -0.3
32 -0.6 -0.4
33 -0.4 -0.3
34 -0.5 -0.4
35 -0.6 -0.5
36 -0.6 -0.7
37 -0.5 -0.5
38 -0.4 -0.4
39 -0.5 -0.3
40 -0.4 -0.3
41 -0.3 -0.2
42 -0.2 0.0
43 -0.1 0.3
44 -0.2 0.5
45 0.0 0.3
46 -0.2 0.0
47 -0.3 -0.1
48 -0.2 -0.3
49 -0.8 -0.5
50 -0.6 -0.6
51 -0.5 -0.5
52 -0.5 -0.6
53 -0.3 -0.3
54 0.0 -0.1
55 0.3 0.2
56 0.4 0.4
57 0.8 0.6
58 0.9 0.4
59 1.2 0.5
60 0.8 0.6
61 0.7 0.3
62 0.8 0.5
63 0.4 0.2
64 0.0 -0.5
65 -0.3 -0.8
66 -0.3 -0.7
67 -0.4 -0.9
68 -0.5 -0.9
69 -0.5 -0.8
70 -0.4 -0.9
71 -0.3 -0.8
72 -0.2 -0.8
73 -0.4 -0.9
74 -0.6 -0.8
75 -0.8 -1.0
76 -0.7 -1.1
77 -0.8 -1.2
78 -1.0 -1.3
79 -1.0 -1.4
80 -1.1 -1.4
81 -1.2 -1.3
82 -1.2 -1.5
83 -1.1 -1.3
84 -1.2 -1.2
85 -1.0 -1.3
86 -1.2 -1.2
87 -1.1 -1.1
88 -1.0 -1.2
89 -1.1 -1.1
90 -1.2 -1.3
91 -1.2 -1.4
92 -1.3 -1.5
93 -1.2 -1.6
94 -1.3 -1.5
95 -1.4 -1.6
96 -1.4 -1.7
97 -1.4 -1.6
98 -1.4 -1.7
99 -1.5 -1.5
100 -1.3 -1.2
}\tabh

\pgfplotsset{
  panel/.style={scale only axis, anchor=south west,
    axis line style={axgray}, tick style={axgray, line width=0.4pt},
    tick align=inside, major tick length=3pt,
    tick label style={font=\fontsize{14}{14}\selectfont, text=black!85},
    label style={font=\fontsize{14}{16}\selectfont, text=black!85},
    /pgf/number format/assume math mode=true,
    legend cell align=left},
  psd/.style={panel, xmin=0, xmax=100, ymin=-2.4, ymax=4.7,
    xtick={0,20,...,100}, ytick={-2,0,2,4},
    yticklabels={10\textsuperscript{-2},10\textsuperscript{0},10\textsuperscript{2},10\textsuperscript{4}},
    xlabel={Frequency (Hz)}, ylabel={A-PSD (rad\textsuperscript{2}/Hz)}, ylabel shift=-6pt},
  smalleg/.style={legend style={font=\fontsize{8}{9}\selectfont, draw=axgray,
    text=black!80, inner xsep=1pt, inner ysep=0.5pt, row sep=-2.5pt, #1}},
  biglegend/.style={legend style={font=\fontsize{9.5}{10.5}\selectfont,
    draw=axgray, text=black!80, inner xsep=1pt, inner ysep=0.5pt, row sep=-2pt, #1}},
}

% band plus the four measured A-PSDs of one track type
\newcommand\fourpsd[3]{%
  \addplot[name path=lo#3, draw=none, forget plot] table[x=x, y=lo] {#2};
  \addplot[name path=hi#3, draw=none, forget plot] table[x=x, y=hi] {#2};
  \addplot[bandgray, forget plot] fill between[of=lo#3 and hi#3];
  \addlegendimage{legend image code/.code={\fill[bandgray] (0pt,-3pt) rectangle (17pt,3pt);}}
  \addlegendentry{Error range of all measured PSDs}
  \addplot[mblue, line width=0.5pt, opacity=0.8] table[x=x, y=b] {#1};
  \addlegendentry{A-PSD at Feb. 22nd}
  \addplot[mred, line width=0.5pt, opacity=0.75] table[x=x, y=r] {#1};
  \addlegendentry{A-PSD at Jul. 31th (rainstorm)}
  \addplot[morange, line width=0.5pt, opacity=0.75] table[x=x, y=o] {#1};
  \addlegendentry{A-PSD at Aug. 6th (earthquake)}
  \addplot[mcyan, line width=0.5pt, opacity=0.9] table[x=x, y=c] {#1};
  \addlegendentry{A-PSD at Apr. 16th}
}

\begin{document}
\begin{tikzpicture}
\path (0pt,0pt) rectangle (685pt,925pt);

\begin{scope}[font=\bfseries\fontsize{19}{19}\selectfont]
\node at (12pt,913pt) {a};
\node at (369pt,913pt) {b};
\node at (13pt,677pt) {c};
\node at (373pt,680pt) {d};
\node at (12pt,446pt) {e};
\node at (369pt,447pt) {f};
\node at (12pt,220pt) {g};
\node at (373pt,220pt) {h};
\end{scope}

% a: phase time history
\begin{axis}[panel, at={(43pt,727pt)}, width=289pt, height=168pt,
  xmin=80, xmax=95, ymin=-78, ymax=80, xtick={80,85,90,95}, ytick={-50,0,50},
  xlabel={Time (s)}, ylabel={Phase changing (×2π rad)}, ylabel shift=-6pt]
\addplot[mblue, line width=1.5pt] coordinates {
(80.00,2)(80.05,-3)(80.10,4)(80.15,-1)(80.20,6)(80.25,-4)(80.30,3)(80.35,-2)(80.40,5)(80.45,-5)
(80.50,2)(80.55,-6)(80.60,4)(80.65,-2)(80.70,6)(80.75,0)(80.80,7)(80.85,-1)(80.90,5)(80.95,2)
(81.00,8)(81.05,1)(81.10,6)(81.15,3)(81.20,9)(81.25,4)(81.30,10)(81.35,6)(81.40,12)(81.45,7)
(81.50,13)(81.55,10)(81.60,-6)(81.65,-12)(81.70,-8)(81.75,-14)(81.80,-5)(81.85,10)(81.90,30)(81.95,20)
(82.02,46)(82.06,22)(82.10,28)(82.14,5)(82.20,-10)(82.26,-20)(82.32,-27)(82.37,-29)(82.42,-18)(82.48,-8)
(82.54,10)(82.60,25)(82.66,40)(82.72,50)(82.75,58)(82.80,35)(82.85,30)(82.90,10)(82.95,-5)(83.00,-25)
(83.03,-38)(83.06,-42)(83.10,-35)(83.15,-15)(83.20,5)(83.26,25)(83.32,45)(83.38,60)(83.44,72)(83.48,50)
(83.53,35)(83.58,15)(83.63,-5)(83.68,-30)(83.74,-50)(83.79,-61)(83.84,-40)(83.90,-15)(83.96,10)(84.02,35)
(84.08,55)(84.15,69)(84.20,45)(84.26,25)(84.32,0)(84.38,-25)(84.43,-45)(84.48,-56)(84.53,-40)(84.58,-15)
(84.64,10)(84.70,35)(84.77,55)(84.84,69)(84.89,45)(84.95,25)(85.00,0)(85.06,-25)(85.11,-45)(85.17,-58)
(85.22,-40)(85.28,-15)(85.34,10)(85.40,35)(85.46,55)(85.52,70)(85.57,48)(85.63,25)(85.68,0)(85.73,-25)
(85.78,-45)(85.83,-58)(85.88,-40)(85.94,-15)(86.00,10)(86.07,35)(86.14,55)(86.21,73)(86.26,50)(86.32,28)
(86.37,5)(86.42,-20)(86.47,-42)(86.52,-61)(86.57,-40)(86.63,-15)(86.69,10)(86.76,35)(86.83,55)(86.90,73)
(86.95,45)(87.00,20)(87.05,0)(87.10,-20)(87.15,-40)(87.21,-50)(87.26,-35)(87.32,-10)(87.40,15)(87.48,35)
(87.55,40)(87.61,48)(87.66,25)(87.70,10)(87.75,-10)(87.81,-25)(87.87,-39)(87.92,-20)(87.98,-5)(88.05,10)
(88.12,20)(88.18,18)(88.22,27)(88.28,15)(88.34,5)(88.40,-5)(88.47,-15)(88.54,-28)(88.58,-10)(88.63,0)
(88.68,12)(88.72,-3)(88.78,4)(88.85,-4)(88.90,2)(89.0,-3)(89.1,3)(89.2,-2)(89.3,4)(89.4,-3)
(89.5,2)(89.6,-4)(89.7,3)(89.8,-1)(89.9,4)(90.0,-3)(90.1,2)(90.2,-2)(90.3,5)(90.4,-3)
(90.5,3)(90.6,-4)(90.7,2)(90.8,-2)(90.9,4)(91.0,-3)(91.1,3)(91.2,-2)(91.3,4)(91.4,-4)
(91.5,2)(91.6,-3)(91.7,5)(91.8,-2)(91.9,3)(92.0,-4)(92.1,2)(92.2,-2)(92.3,4)(92.4,-3)
(92.5,3)(92.6,-2)(92.7,4)(92.8,-4)(92.9,2)(93.0,-3)(93.1,4)(93.2,-2)(93.3,3)(93.4,-4)
(93.5,2)(93.6,-2)(93.7,4)(93.8,-3)(93.9,3)(94.0,-2)(94.1,4)(94.2,-3)(94.3,2)(94.4,-3)
(94.5,4)(94.6,-2)(94.7,3)(94.8,-3)(94.9,2)(95.0,0)
};
\node[text=black!70, font=\fontsize{13}{13}\selectfont] at (axis cs:91.4,69) {Section 7};
\node[anchor=north west, align=left, inner sep=0pt, font=\fontsize{12}{15}\selectfont]
  at (axis cs:89.9,-21) {Lianyu Bridge in\\urban area};
\end{axis}

% b: PSD of one pass
\begin{axis}[panel, at={(384pt,727pt)}, width=286pt, height=168pt,
  xmin=0, xmax=100, ymin=-2.31, ymax=4.77, xtick={0,20,...,100}, ytick={-2,0,2,4},
  yticklabels={10\textsuperscript{-2},10\textsuperscript{0},10\textsuperscript{2},10\textsuperscript{4}},
  xlabel={Frequency (Hz)}, ylabel={PSD (rad\textsuperscript{2}/Hz)}, ylabel shift=-7pt,
  legend style={at={(0.995,0.995)}, anchor=north east, font=\fontsize{10}{11}\selectfont,
    draw=axgray, text=black!80, inner xsep=1pt, inner ysep=0.5pt, row sep=-2pt}]
\addplot[mblue, line width=0.4pt, opacity=0.85] coordinates {
(0,0.8)(0.5,1.4)(1.0,2.0)(1.5,4.5)(2.0,1.5)(2.5,0.6)(3.0,2.4)(3.5,1.2)(4.0,2.6)(4.5,0.8)
(5.0,1.8)(5.5,0.5)(6.0,1.4)(6.5,0.2)(7.0,1.0)(7.5,-0.8)(8.0,1.3)(8.5,0.2)(9.0,0.9)(9.5,0.0)
(10.0,1.5)(10.5,0.4)(11.0,0.8)(11.5,-0.2)(12.0,1.1)(12.5,0.3)(13.0,0.7)(13.5,0.1)(14.0,1.0)(14.5,1.8)
(15.0,0.3)(15.5,0.8)(16.0,-0.3)(16.5,0.6)(17.0,0.1)(17.5,1.4)(18.0,-0.2)(18.5,0.5)(19.0,-0.6)(19.5,0.4)
(20.0,-1.3)(20.5,0.2)(21.0,-0.5)(21.5,-2.4)(22.0,0.0)(22.5,-0.8)(23.0,0.3)(23.5,-0.4)(24.0,-1.2)(24.5,-0.3)
(25.0,1.4)(25.5,-0.6)(26.0,-0.1)(26.5,-0.9)(27.0,0.0)(27.5,-0.5)(28.0,-1.0)(28.5,-0.2)(29.0,-0.7)(29.5,1.2)
(30.0,-0.4)(30.5,-1.0)(31.0,-0.2)(31.5,-0.7)(32.0,0.1)(32.5,-0.9)(33.0,-0.3)(33.5,-1.5)(34.0,-0.4)(34.5,0.9)
(35.0,-0.8)(35.5,-0.2)(36.0,-1.1)(36.5,-0.4)(37.0,0.5)(37.5,-0.6)(38.0,-0.1)(38.5,-0.9)(39.0,1.3)(39.5,-0.3)
(40.0,-2.4)(40.5,0.0)(41.0,-0.5)(41.5,0.6)(42.0,-0.3)(42.5,1.6)(43.0,-0.2)(43.5,0.4)(44.0,-0.4)(44.5,0.8)
(45.0,-0.1)(45.5,1.5)(46.0,0.0)(46.5,-0.6)(47.0,0.6)(47.5,-0.1)(48.0,1.8)(48.5,0.2)(49.0,-0.3)(49.5,0.7)
(50.0,0.0)(50.5,1.2)(51.0,0.2)(51.5,0.9)(52.0,-0.1)(52.5,1.7)(53.0,0.4)(53.5,1.0)(54.0,0.2)(54.5,1.5)
(55.0,0.6)(55.5,2.0)(56.0,0.5)(56.5,1.3)(57.0,0.8)(57.5,2.4)(58.0,0.9)(58.5,1.6)(59.0,1.0)(59.5,2.6)
(60.0,3.4)(60.5,1.2)(61.0,2.1)(61.5,0.6)(62.0,1.5)(62.5,2.9)(63.0,1.0)(63.5,0.3)(64.0,1.6)(64.5,0.4)
(65.0,2.0)(65.5,0.1)(66.0,0.9)(66.5,-0.2)(67.0,1.3)(67.5,0.3)(68.0,1.7)(68.5,-0.1)(69.0,0.8)(69.5,0.2)
(70.0,1.4)(70.5,-0.2)(71.0,0.6)(71.5,1.8)(72.0,0.1)(72.5,0.7)(73.0,-0.3)(73.5,1.2)(74.0,0.2)(74.5,1.6)
(75.0,-0.2)(75.5,0.6)(76.0,0.0)(76.5,1.3)(77.0,-0.3)(77.5,0.5)(78.0,1.5)(78.5,0.0)(79.0,-0.5)(79.5,0.9)
(80.0,-0.2)(80.5,1.2)(81.0,-0.4)(81.5,0.3)(82.0,-0.6)(82.5,1.0)(83.0,-0.1)(83.5,0.6)(84.0,-0.7)(84.5,0.8)
(85.0,-0.3)(85.5,0.2)(86.0,-0.9)(86.5,0.7)(87.0,-0.4)(87.5,-1.2)(88.0,0.3)(88.5,-0.6)(89.0,0.5)(89.5,-0.5)
(90.0,-1.8)(90.5,0.2)(91.0,-0.7)(91.5,0.1)(92.0,-0.9)(92.5,-0.3)(93.0,0.4)(93.5,-0.8)(94.0,-0.2)(94.5,-1.4)
(95.0,-0.4)(95.5,0.3)(96.0,-1.0)(96.5,-0.5)(97.0,-2.4)(97.5,-0.3)(98.0,-0.9)(98.5,0.0)(99.0,-1.2)(99.5,-0.4)
(100.0,-0.8)
};
\addlegendentry{Quasi-discrete spectrum of vibration}
\addplot[mred, line width=1.3pt, smooth] coordinates {
(0.6,0.91)(1.2,1.55)(2,2.05)(3,2.35)(4.1,2.45)(5,2.3)(5.8,1.85)(6.3,1.3)(6.8,0.35)};
\addlegendentry{Bumps of spectral characteristic}
\addplot[mred, line width=1.3pt, smooth, forget plot] coordinates {
(6.8,0.35)(7.5,0.85)(8.5,1.15)(10,1.33)(12.7,1.42)(15,1.38)(17,1.2)(19,0.8)(20.5,0.3)(22.2,-0.45)};
\addplot[mred, line width=1.3pt, smooth, forget plot] coordinates {
(35.4,-0.28)(38,0.4)(42,1.0)(46,1.4)(50,1.65)(55,1.8)(59.3,1.83)(64,1.8)(70,1.6)(75,1.3)(80,0.9)(85,0.4)(89,0.0)(91.4,-0.42)};
\addplot[only marks, mark=*, mark size=2.8pt, mark options={fill=mred, draw=black!60}, forget plot]
  coordinates {(1.5,4.56)(14.6,1.78)};
\node[anchor=west, inner sep=0pt, font=\fontsize{14}{14}\selectfont] at (axis cs:3.1,4.13) {f\textsubscript{carr}=1.5Hz};
\node[anchor=west, inner sep=0pt, font=\fontsize{14}{14}\selectfont] at (axis cs:16.8,2.08) {f\textsubscript{axle}=14.6Hz};
\end{axis}

% c-f: A-PSDs on four dates
\begin{axis}[psd, at={(46pt,498pt)}, width=288pt, height=175pt,
  smalleg={at={(0.04,1)}, anchor=north west}]
\fourpsd{\tabc}{\bandc}{c}
\node[anchor=east, font=\fontsize{11.5}{12}\selectfont] at (axis cs:99,3.55) {Ballasted track bridge};
\end{axis}

\begin{axis}[psd, at={(386pt,500pt)}, width=279pt, height=172pt,
  smalleg={at={(0.995,1)}, anchor=north east}]
\fourpsd{\tabd}{\bandd}{d}
\node[anchor=west, font=\fontsize{11.5}{12}\selectfont] at (axis cs:2,3.7) {Ballastless track bridge};
\end{axis}

\begin{axis}[psd, at={(48pt,268pt)}, width=287pt, height=173pt,
  smalleg={at={(0,1)}, anchor=north west}]
\fourpsd{\tabe}{\bande}{e}
\node[anchor=east, font=\fontsize{11.5}{12}\selectfont] at (axis cs:99.5,3.75) {Ballasted track roadbed};
\end{axis}

\begin{axis}[psd, at={(386pt,270pt)}, width=280pt, height=171pt,
  smalleg={at={(1,1)}, anchor=north east}]
\fourpsd{\tabf}{\bandf}{f}
\node[anchor=west, font=\fontsize{11.5}{12}\selectfont] at (axis cs:1,3.66) {Ballastless track roadbed};
\end{axis}

% g-h: averaged A-PSDs
\begin{axis}[psd, at={(46pt,34pt)}, width=290pt, height=178pt,
  biglegend={at={(0.995,0.985)}, anchor=north east}]
\addplot[mblue, line width=0.6pt] table[x=x, y=b] {\tabg};
\addlegendentry{A-PSD of ballasted track bridge}
\addplot[mred, line width=0.6pt] table[x=x, y=r] {\tabg};
\addlegendentry{A-PSD of ballastless track bridge}
\end{axis}

\begin{axis}[psd, at={(386pt,37pt)}, width=286pt, height=175pt,
  biglegend={at={(0.995,0.98)}, anchor=north east}]
\addplot[mblue, line width=0.6pt] table[x=x, y=b] {\tabh};
\addlegendentry{A-PSD of ballasted track roadbed}
\addplot[mred, line width=0.6pt] table[x=x, y=r] {\tabh};
\addlegendentry{A-PSD of ballastless track roadbed}
\end{axis}
\pgfresetboundingbox
\path[use as bounding box] (0pt,0pt) rectangle (685pt,925pt);
\end{tikzpicture}
\end{document}
